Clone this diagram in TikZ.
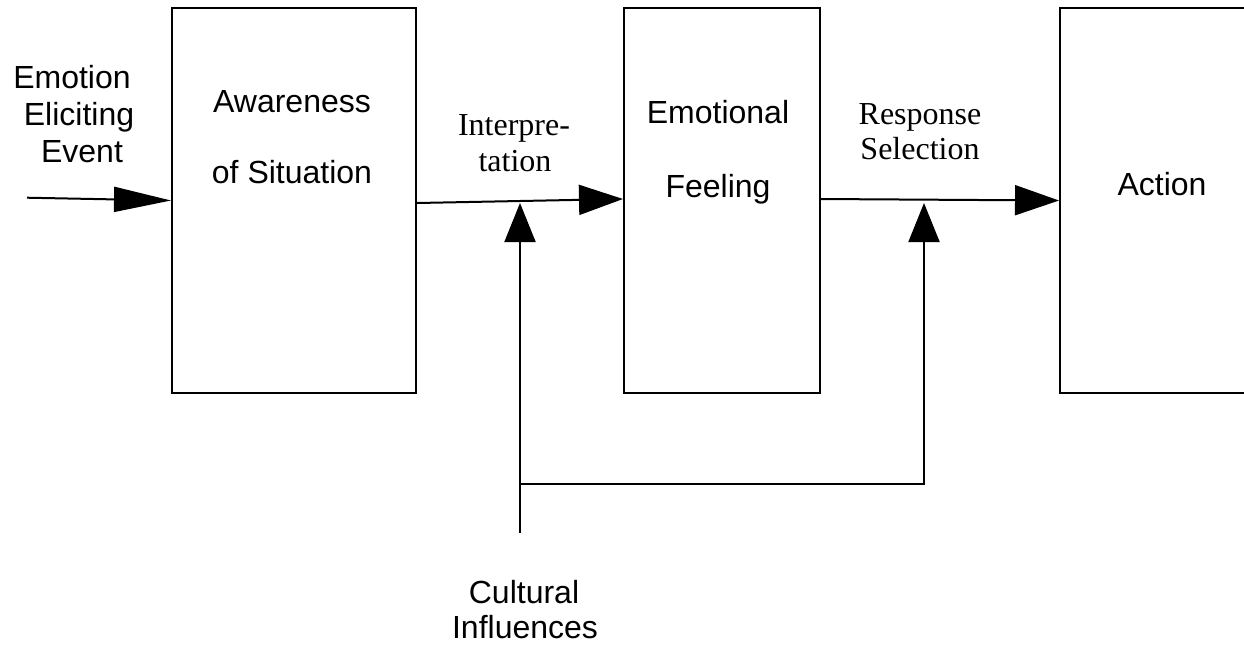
\documentclass[tikz,border=0pt]{standalone}
\usepackage{fontspec}
\setmainfont{Liberation Serif}
\newfontfamily\arialfont{Liberation Sans}
\usetikzlibrary{arrows.meta,calc}
\begin{document}
\begin{tikzpicture}[x=1pt,y=-1pt,
  stagebox/.style={draw,line width=2pt,minimum height=385pt,inner sep=0pt},
  sanslabel/.style={font=\arialfont\fontsize{32}{37}\selectfont,inner sep=0pt,anchor=base,align=center},
  serlabel/.style={font=\fontsize{32}{36}\selectfont,inner sep=0pt,anchor=base,align=center},
  flow/.style={line width=2pt,-{Triangle[length=44pt,width=30pt]}},
  feed/.style={line width=2pt}]
\clip (0,0) rectangle (1244,649);
\useasboundingbox (0,0) rectangle (1244,649);
% boxes
\node[stagebox,minimum width=244pt] (aware) at (294,200.5) {};
\node[stagebox,minimum width=196pt] (feel) at (722,200.5) {};
\node[stagebox,minimum width=300pt] (act) at (1210,200.5) {};
% texts
\node[sanslabel] (evA) at (72,88) {Emotion};
\node[sanslabel] (evB) at (79,125) {Eliciting};
\node[sanslabel] (evC) at (82,162) {Event};
\node[sanslabel] (awA) at (292,112) {Awareness};
\node[sanslabel] (awB) at (292,183) {of Situation};
\node[sanslabel] (feA) at (718,123) {Emotional};
\node[sanslabel] (feB) at (718,197) {Feeling};
\node[sanslabel] (acA) at (1162,195) {Action};
\node[serlabel] (inA) at (514,135) {Interpre-};
\node[serlabel] (inB) at (515,171) {tation};
\node[serlabel] (rsA) at (920,124) {Response};
\node[serlabel] (rsB) at (920,159) {Selection};
\node[sanslabel] (cuA) at (524,603) {Cultural};
\node[sanslabel] (cuB) at (525,638) {Influences};
% connectors
\coordinate (in) at (27,197.7);
\draw[line width=2pt,-{Triangle[length=57pt,width=25pt]}] (in) -- (aware.west);
\draw[flow] ([yshift=-2.5pt]aware.east) -- ([yshift=1.5pt]feel.west);
\draw[flow] ([yshift=1.5pt]feel.east) -- (act.west);
\coordinate (j1) at (520,203);
\coordinate (j2) at (924,203);
\coordinate (src) at (520,533);
\coordinate (fork) at (520,484);
\draw[line width=2pt,-{Triangle[length=39pt,width=31pt]}] (src) -- (j1);
\draw[line width=2pt,-{Triangle[length=39pt,width=31pt]}] (fork) -| (j2);
\end{tikzpicture}
\end{document}
